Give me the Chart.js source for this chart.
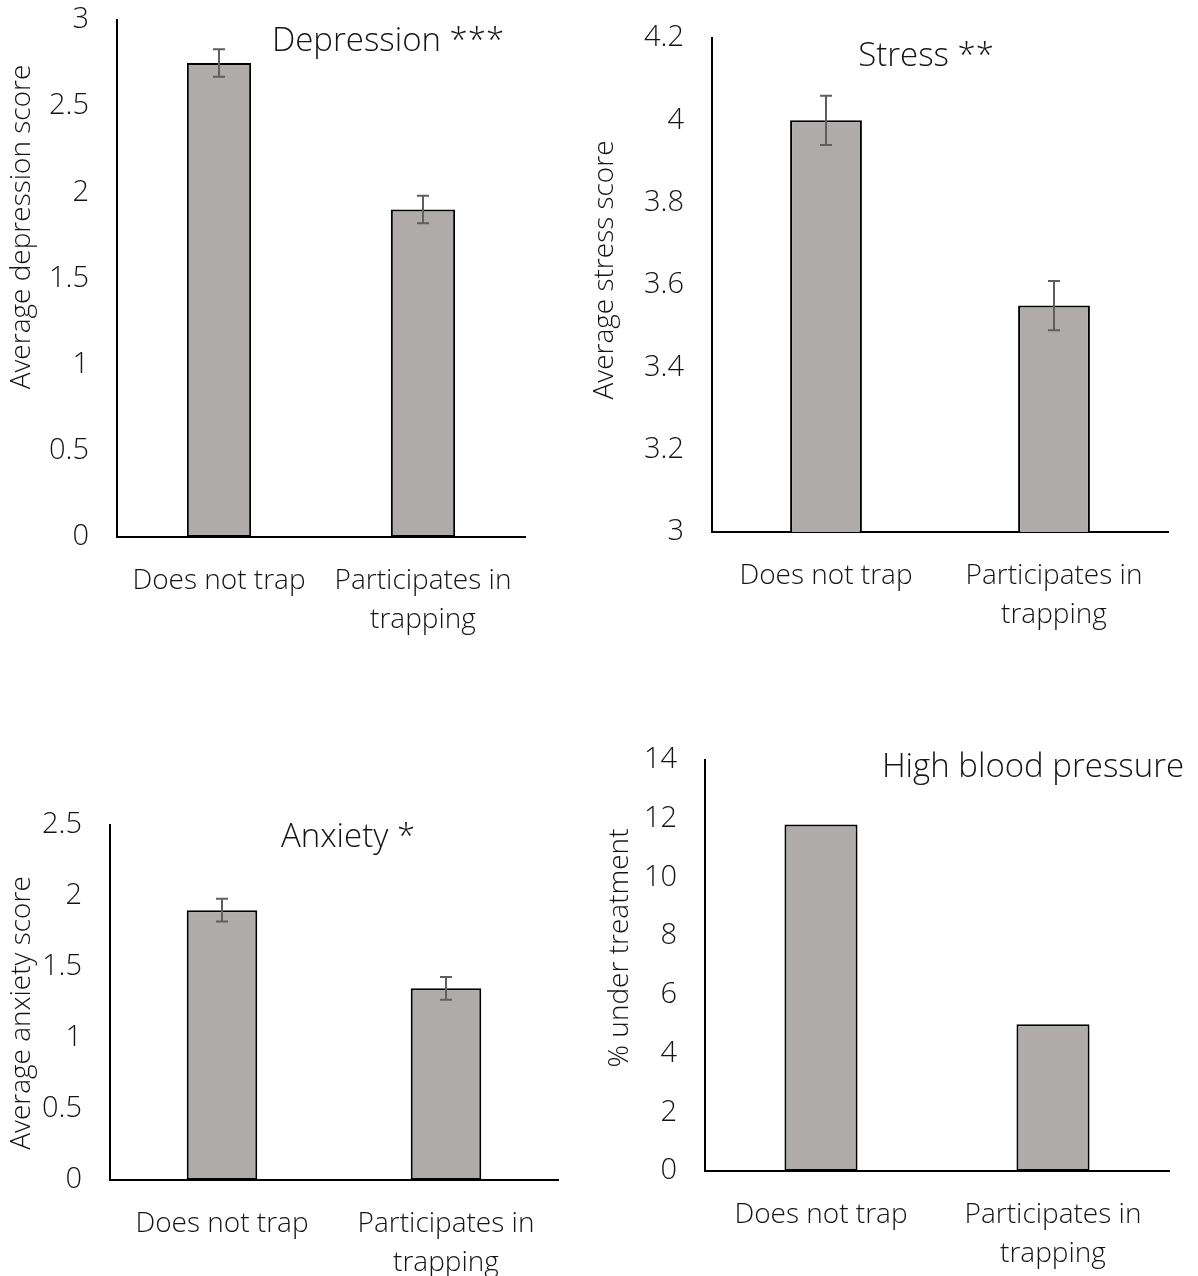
<!DOCTYPE html>
<html>
<head>
<meta charset="utf-8">
<script src="https://cdn.jsdelivr.net/npm/chart.js@4.4.1/dist/chart.umd.min.js"></script>
<style>
html, body { margin: 0; padding: 0; background: #fff; }
body { width: 1198px; height: 1276px; position: relative; overflow: hidden; }
canvas { position: absolute; }
</style>
</head>
<body>
<canvas id="depression"></canvas>
<canvas id="stress"></canvas>
<canvas id="anxiety"></canvas>
<canvas id="bloodPressure"></canvas>
<script>
// values
const categories = ['Does not trap', ['Participates in', 'trapping']];
const depressionMeans = [2.75, 1.90];
const depressionErrors = [0.08, 0.08];
const stressMeans = [4.00, 3.55];
const stressErrors = [0.06, 0.06];
const anxietyMeans = [1.90, 1.35];
const anxietyErrors = [0.08, 0.08];
const bloodPressurePct = [11.8, 5.0];

const FONT = '"Open Sans", "Noto Sans", sans-serif';
const TEXT = '#141414';
const BAR_FILL = '#afabab';
const Y_W = 90;   // width kept for the y tick column
const X_H = 110;  // height kept for the category labels

// error bars, drawn through the y scale
const errorBars = {
    id: 'errorBars',
    afterDatasetsDraw(chart) {
        const ds = chart.data.datasets[0];
        if (!ds.errors) return;
        const ctx = chart.ctx;
        const y = chart.scales.y;
        ctx.save();
        ctx.strokeStyle = '#5f5f5f';
        ctx.lineWidth = 2;
        chart.getDatasetMeta(0).data.forEach((bar, i) => {
            const top = y.getPixelForValue(ds.data[i] + ds.errors[i]);
            const bot = y.getPixelForValue(ds.data[i] - ds.errors[i]);
            ctx.beginPath();
            ctx.moveTo(bar.x, top); ctx.lineTo(bar.x, bot);
            ctx.moveTo(bar.x - 6, top); ctx.lineTo(bar.x + 6, top);
            ctx.moveTo(bar.x - 6, bot); ctx.lineTo(bar.x + 6, bot);
            ctx.stroke();
        });
        ctx.restore();
    }
};

// panel title inside the plot + rotated y title
const panelText = {
    id: 'panelText',
    afterDraw(chart, args, opts) {
        const ctx = chart.ctx;
        ctx.save();
        ctx.fillStyle = TEXT;
        ctx.textAlign = 'center';
        ctx.textBaseline = 'middle';
        ctx.font = `300 33px ${FONT}`;
        ctx.fillText(opts.title, opts.titleX, opts.titleY);
        ctx.translate(opts.yTitleX, opts.yTitleY);
        ctx.rotate(-Math.PI / 2);
        ctx.font = `300 28px ${FONT}`;
        ctx.fillText(opts.yTitle, 0, 0);
        ctx.restore();
    }
};

const fmtTick = v => String(Number(v.toFixed(2)));

// canvas box (left, top, width, height), plot box (left, top, right, bottom), page coordinates
const drawPanel = (id, p) => {
    const canvas = document.getElementById(id);
    canvas.width = p.box[2];
    canvas.height = p.box[3];
    canvas.style.left = p.box[0] + 'px';
    canvas.style.top = p.box[1] + 'px';
    const [cl, ct, cw, ch] = p.box;
    const [al, at, ar, ab] = p.axes;
    new Chart(canvas.getContext('2d'), {
        type: 'bar',
        data: {
            labels: categories,
            datasets: [{
                data: p.values,
                errors: p.errors,
                backgroundColor: BAR_FILL,
                borderColor: '#000',
                borderWidth: 2,
                borderSkipped: false,
                categoryPercentage: 1,
                barPercentage: 0.315
            }]
        },
        options: {
            responsive: false,
            animation: false,
            layout: {
                padding: {
                    left: al - cl - Y_W,
                    top: at - ct,
                    right: cl + cw - ar,
                    bottom: ct + ch - ab - X_H
                }
            },
            plugins: {
                legend: { display: false },
                tooltip: { enabled: false },
                panelText: {
                    title: p.title,
                    titleX: p.titlePos[0] - cl,
                    titleY: p.titlePos[1] - ct,
                    yTitle: p.yTitle,
                    yTitleX: p.yTitlePos[0] - cl,
                    yTitleY: p.yTitlePos[1] - ct
                }
            },
            scales: {
                x: {
                    grid: { display: false, drawTicks: false },
                    border: { display: true, color: '#000', width: 2 },
                    ticks: { color: TEXT, padding: 25, font: { family: FONT, size: 28, weight: '300', lineHeight: 1.38 } },
                    afterFit: s => { s.height = X_H; s.paddingLeft = 0; s.paddingRight = 0; }
                },
                y: {
                    min: p.min,
                    max: p.max,
                    grid: { display: false, drawTicks: false },
                    border: { display: true, color: '#000', width: 2 },
                    ticks: { stepSize: p.step, color: TEXT, padding: 28, callback: fmtTick, font: { family: FONT, size: 29, weight: '300' } },
                    afterFit: s => { s.width = Y_W; s.paddingTop = 0; s.paddingBottom = 0; }
                }
            }
        },
        plugins: [errorBars, panelText]
    });
};

drawPanel('depression', {
    box: [0, 0, 560, 660], axes: [117, 20, 525, 537],
    values: depressionMeans, errors: depressionErrors, min: 0, max: 3, step: 0.5,
    title: 'Depression ***', titlePos: [388, 42],
    yTitle: 'Average depression score', yTitlePos: [22, 227]
});
drawPanel('stress', {
    box: [580, 0, 618, 660], axes: [712, 38, 1168, 532],
    values: stressMeans, errors: stressErrors, min: 3, max: 4.2, step: 0.2,
    title: 'Stress **', titlePos: [926, 57],
    yTitle: 'Average stress score', yTitlePos: [605, 270]
});
drawPanel('anxiety', {
    box: [0, 790, 580, 500], axes: [110, 825, 558, 1180],
    values: anxietyMeans, errors: anxietyErrors, min: 0, max: 2.5, step: 0.5,
    title: 'Anxiety *', titlePos: [348, 838],
    yTitle: 'Average anxiety score', yTitlePos: [22, 1013]
});
drawPanel('bloodPressure', {
    box: [580, 730, 618, 560], axes: [705, 760, 1169, 1171],
    values: bloodPressurePct, errors: null, min: 0, max: 14, step: 2,
    title: 'High blood pressure', titlePos: [1033, 768],
    yTitle: '% under treatment', yTitlePos: [620, 948]
});
</script>
</body>
</html>
